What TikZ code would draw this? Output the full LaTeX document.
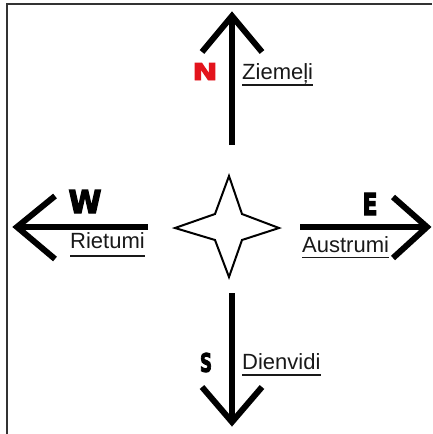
\documentclass[tikz,border=0pt]{standalone}
\usepackage{fontspec}
\usepackage{graphicx}
\setmainfont{Liberation Sans}
\newfontfamily\heavy[FakeBold=4]{DejaVu Sans Bold}
\definecolor{nred}{HTML}{E3141C}
\definecolor{frame}{HTML}{333333}
\begin{document}
\begin{tikzpicture}[x=1pt,y=-1pt,
  shaft/.style={line width=6pt,black},
  chev/.style={line width=6pt,black,line join=miter,miter limit=10},
  lab/.style={inner sep=0pt,anchor=base west,font=\fontsize{22}{22}\selectfont,text=black!90},
  uline/.style={line width=1.6pt,black!90},
  dirl/.style={inner sep=0pt,font=\heavy},
  starline/.style={line width=2pt,black,line join=miter}]
\useasboundingbox (0,0) rectangle (432,434);
\fill[white] (0,0) rectangle (432,434);
% frame
\coordinate (f1) at (7,434);
\coordinate (f2) at (7,4);
\coordinate (f3) at (432,4);
\draw[line width=1.6pt,frame] (f1) -- (f2) -- (f3);
% North
\coordinate (nb) at (232,145);
\coordinate (nt) at (232,18);
\coordinate (nl) at (202,52);
\coordinate (nr) at (262,52);
\draw[shaft] (nb) -- (nt);
\draw[chev] (nl) -- (232,16) -- (nr);
% West
\coordinate (wb) at (148,227);
\coordinate (wt) at (19,227);
\coordinate (wu) at (55,196);
\coordinate (wd) at (55,259);
\draw[shaft] (wb) -- (wt);
\draw[chev] (wu) -- (17,227) -- (wd);
% East
\coordinate (eb) at (300,227);
\coordinate (et) at (425,227);
\coordinate (eu) at (393,197);
\coordinate (ed) at (393,258);
\draw[shaft] (eb) -- (et);
\draw[chev] (eu) -- (427,227) -- (ed);
% South
\coordinate (sb) at (232,293);
\coordinate (st) at (232,420);
\coordinate (sl) at (202,387);
\coordinate (sr) at (262,387);
\draw[shaft] (sb) -- (st);
\draw[chev] (sl) -- (232,422) -- (sr);
% letters
\node[dirl,text=nred] (N) at (205,71.5) {\resizebox{25pt}{17pt}{N}};
\node[dirl] (W) at (85,201.5) {\resizebox{33pt}{23pt}{W}};
\node[dirl] (E) at (370,204) {\resizebox{15pt}{22pt}{E}};
\node[dirl] (S) at (206,362.5) {\resizebox{12pt}{19pt}{S}};
% labels
\node[lab] (zi) at (242,79) {Ziemeļi};
\draw[uline] ([yshift=-6pt]zi.base west) -- ([yshift=-6pt]zi.base east);
\node[lab] (ri) at (70,248) {Rietumi};
\draw[uline] ([yshift=-8pt]ri.base west) -- ([yshift=-8pt]ri.base east);
\node[lab] (au) at (302,252) {Austrumi};
\draw[uline] ([yshift=-5.5pt]au.base west) -- ([yshift=-5.5pt]au.base east);
\node[lab] (di) at (242,369) {Dienvidi};
\draw[uline] ([yshift=-6pt]di.base west) -- ([yshift=-6pt]di.base east);
% star
\coordinate (s1) at (229,176);
\coordinate (s2) at (242,214);
\coordinate (s3) at (279,228);
\coordinate (s4) at (242,240);
\coordinate (s5) at (229,277);
\coordinate (s6) at (215,240);
\coordinate (s7) at (175,228);
\coordinate (s8) at (215,214);
\draw[starline] (s1) -- (s2) -- (s3) -- (s4) -- (s5) -- (s6) -- (s7) -- (s8) -- cycle;
\end{tikzpicture}
\end{document}
